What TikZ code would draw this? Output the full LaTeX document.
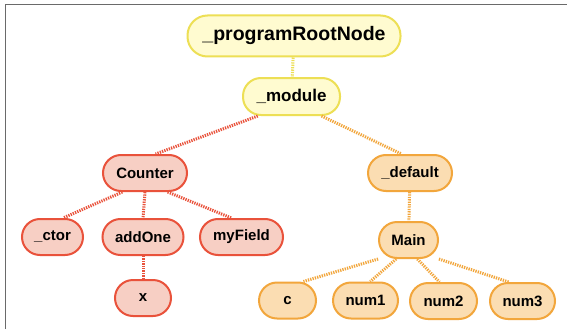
\documentclass[tikz,border=0pt]{standalone}
\usepackage{fontspec}
\setmainfont{Liberation Sans}
\definecolor{yfill}{HTML}{FFFBD0}
\definecolor{ydraw}{HTML}{EDDF55}
\definecolor{rfill}{HTML}{F7CFC4}
\definecolor{rdraw}{HTML}{E9523B}
\definecolor{ofill}{HTML}{FBDDB2}
\definecolor{odraw}{HTML}{F2A63C}
\definecolor{frame}{HTML}{6A6A6A}
\begin{document}
\begin{tikzpicture}[x=1pt,y=-1pt,
  pill/.style={rounded corners=18pt, line width=2pt, minimum height=36pt, inner sep=0pt,
    font=\fontsize{15}{18}\selectfont\bfseries},
  ynode/.style={pill, draw=ydraw, fill=yfill},
  rnode/.style={pill, draw=rdraw, fill=rfill},
  onode/.style={pill, draw=odraw, fill=ofill},
  dotline/.style={line width=3pt, dash pattern=on 1.3pt off 1.1pt},
  yline/.style={dotline, draw=ydraw},
  rline/.style={dotline, draw=rdraw},
  oline/.style={dotline, draw=odraw}]
\useasboundingbox (0,0) rectangle (567,329);
\fill[white] (0,0) rectangle (567,329);
\draw[frame, line width=1.5pt] (5.5,329) -- (5.5,4.5) -- (567,4.5);

\node[ynode, minimum width=213pt, minimum height=41pt, rounded corners=20pt,
  font=\fontsize{19.5}{22}\selectfont\bfseries] (root) at (294,36) {\_programRootNode};
\node[ynode, minimum width=97pt, minimum height=37pt, font=\fontsize{17}{20}\selectfont\bfseries] (module) at (291.5,96.5) {\_module};

\node[rnode, minimum width=84pt] (counter) at (145,173) {Counter};
\node[rnode, minimum width=61pt] (ctor) at (52.5,237) {\_ctor};
\node[rnode, minimum width=81pt] (addone) at (143,237) {addOne};
\node[rnode, minimum width=83pt] (myfield) at (241.5,237) {myField};
\node[rnode, minimum width=56pt] (x) at (143,298) {x};

\node[onode, minimum width=84pt] (default) at (410,173) {\_default};
\node[onode, minimum width=59pt] (main) at (408.5,240) {Main};
\node[onode, minimum width=57pt] (c) at (287.5,300.5) {c};
\node[onode, minimum width=65pt] (num1) at (365.5,300.5) {num1};
\node[onode, minimum width=67pt] (num2) at (443.5,301) {num2};
\node[onode, minimum width=65pt] (num3) at (522.5,301) {num3};

\draw[yline] (root) -- (module);
\draw[rline] (module.210) -- (counter.61);
\draw[oline] (module.-33) -- (default.114);
\draw[rline] (counter.220) -- (ctor.61);
\draw[rline] (counter.south) -- (addone.north);
\draw[rline] (counter.-40) -- (myfield.118);
\draw[rline] (addone) -- (x);
\draw[oline] (default) -- (main);
\draw[oline] (main.212) -- (c.50);
\draw[oline] (main.237) -- (num1.76);
\draw[oline] (main.-65) -- (num2.102);
\draw[oline] (main.-32) -- (num3.126);
\end{tikzpicture}
\end{document}
